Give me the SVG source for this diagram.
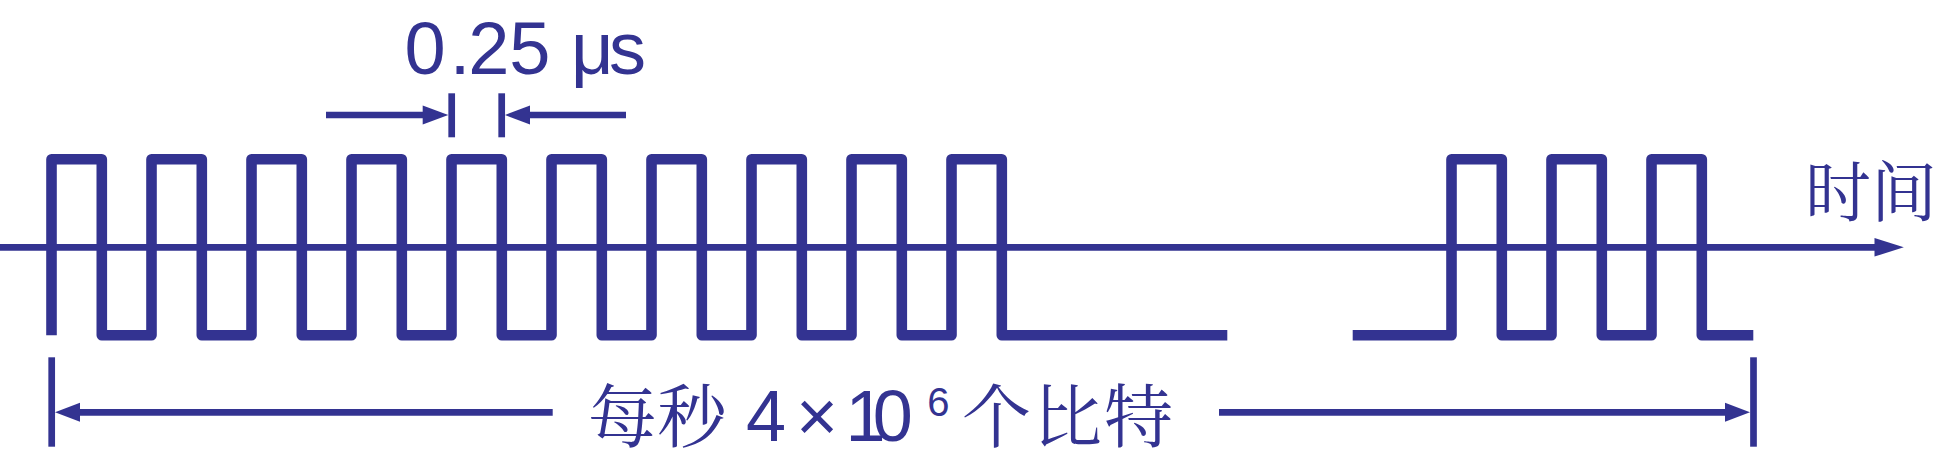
<svg xmlns="http://www.w3.org/2000/svg" width="1960" height="452" viewBox="0 0 1960 452">
<defs>
<style>
.wave{fill:none;stroke:#333391;stroke-width:10.6;stroke-linejoin:round;stroke-linecap:butt}
.ln{fill:none;stroke:#333391;stroke-width:6.7;stroke-linecap:butt}
.head{fill:#333391;stroke:none}
.lat{font-family:"Liberation Sans",Arial,sans-serif;fill:#333391}
.cjk{font-family:"Noto Serif CJK SC","Noto Sans CJK SC",serif;fill:#333391}
</style>
</defs>
<rect width="1960" height="452" fill="#ffffff"/>

<g id="signal-burst-1">
<path class="wave" d="M51.5,335.3 V159.3 H101.8 V335.3 H151.5 V159.3 H201.8 V335.3 H251.5 V159.3 H301.8 V335.3 H351.5 V159.3 H401.8 V335.3 H451.5 V159.3 H501.8 V335.3 H551.5 V159.3 H601.8 V335.3 H651.5 V159.3 H701.8 V335.3 H751.5 V159.3 H801.8 V335.3 H851.5 V159.3 H901.8 V335.3 H951.5 V159.3 H1001.8 V335.3 H1227.3"/>
</g>
<g id="signal-burst-2">
<path class="wave" d="M1352.7,335.3 H1451.5 V159.3 H1501.8 V335.3 H1551.5 V159.3 H1601.8 V335.3 H1651.5 V159.3 H1701.8 V335.3 H1753.3"/>
</g>

<g id="connectors">
<g id="time-axis">
<line class="ln" x1="0" y1="247.3" x2="1877" y2="247.3"/>
<polygon class="head" points="1874.5,238 1903.8,247.3 1874.5,256.6"/>
</g>
<g id="dim-bit-period">
<line class="ln" x1="326" y1="115" x2="425" y2="115"/>
<polygon class="head" points="422.7,105.5 448.3,115 422.7,124.5"/>
<line class="ln" x1="451.7" y1="93.3" x2="451.7" y2="137.3"/>
<line class="ln" x1="501.7" y1="93.3" x2="501.7" y2="137.3"/>
<polygon class="head" points="530,105.5 505,115 530,124.5"/>
<line class="ln" x1="528" y1="115" x2="626" y2="115"/>
</g>
<g id="dim-one-second">
<line class="ln" x1="51.7" y1="357.3" x2="51.7" y2="446.7"/>
<polygon class="head" points="80,402.8 55,412.3 80,421.8"/>
<line class="ln" x1="78" y1="412.3" x2="552.7" y2="412.3"/>
<line class="ln" x1="1219" y1="412.3" x2="1727" y2="412.3"/>
<polygon class="head" points="1725,402.8 1750,412.3 1725,421.8"/>
<line class="ln" x1="1753.5" y1="357.3" x2="1753.5" y2="446.7"/>
</g>
</g>

<g id="label-period">
<text class="lat" font-size="74" x="404.6 449.7 468.3 509.3 571 609" y="74">0.25μs</text>
</g>
<g id="label-time">
<text class="cjk" font-size="66" x="1805" y="216">时间</text>
</g>
<g id="label-rate">
<text class="cjk" font-size="69" x="588" y="441.5" letter-spacing="0.5">每秒</text>
<text class="lat" font-size="72" x="746 796 845.5 872.7" y="440.5">4×10</text>
<text class="lat" font-size="40" x="927.3" y="415.5">6</text>
<text class="cjk" font-size="69" x="962" y="441.5" letter-spacing="2">个比特</text>
</g>
</svg>
